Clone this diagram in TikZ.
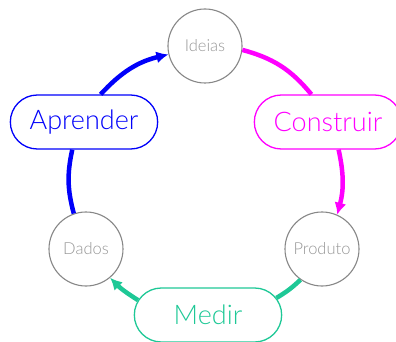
\documentclass[tikz,border=0pt]{standalone}
\usepackage{fontspec}
\setmainfont{Lato Light}
\usepackage{xcolor}
\usetikzlibrary{positioning,arrows.meta,shapes.misc}
\definecolor{leangray}{RGB}{135,135,135}
\definecolor{leantext}{RGB}{150,150,150}
\definecolor{leanblue}{RGB}{0,0,250}
\definecolor{leanpink}{RGB}{255,0,255}
\definecolor{leangreen}{RGB}{30,200,150}

\begin{document}
\begin{tikzpicture}[auto ,on grid ,line width=4.5pt ,stage/.style ={ circle , draw=leangray , line width=1.1pt , text=leantext , font=\fontsize{16.5}{18}\selectfont , minimum size=74pt , inner sep=0pt} ,phase/.style ={ rounded rectangle , draw=#1 , line width=1.3pt , text=#1 , font=\fontsize{27}{30}\selectfont , minimum width=154pt , minimum height=54pt} ,loop/.style ={ draw=#1 , -{Latex[length=12pt,width=12pt]}}]
\useasboundingbox (-205pt,-296pt) rectangle (191pt,46pt);
\node[stage] (I) at (0,0) { Ideias };
\node[phase=leanblue] (A) [below left = 76pt and 121pt of I] { Aprender };
\node[phase=leanpink] (C) [below right = 76pt and 123pt of I] { Construir };
\node[stage] (D) [below left = 203pt and 119pt of I] { Dados };
\node[stage] (P) [below right = 203pt and 117pt of I] { Produto };
\node[phase=leangreen] (M) [below right = 269pt and 3pt of I] { Medir };
\path (D.109) edge [draw=leanblue, bend left=13.6] (A.247);
\path (A.59) edge [loop=leanblue, bend left=17] (I.193);
\path (I.-6) edge [draw=leanpink, bend left=17.8] (C.121);
\path (C.-69) edge [loop=leanpink, bend left=13.5] (P.66);
\path (P.235) edge [draw=leangreen, bend left=6.4] (M.14);
\path (M.168) edge [loop=leangreen, bend left=6.9] (D.-50);
\end{tikzpicture}
\end{document}
